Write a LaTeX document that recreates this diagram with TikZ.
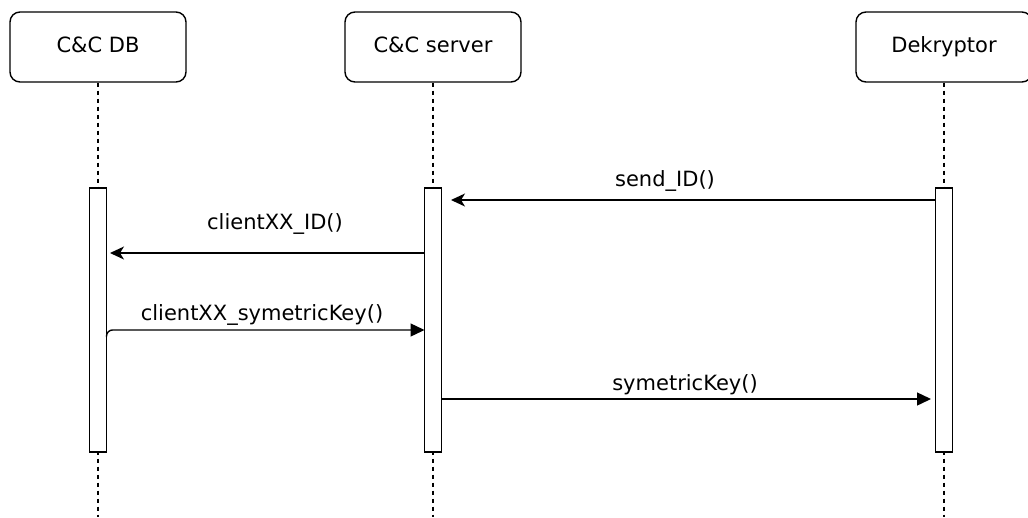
\documentclass[tikz,border=0pt]{standalone}
\usepackage{fontspec}
\setmainfont{DejaVu Sans}
\usetikzlibrary{arrows.meta}
\begin{document}
\begin{tikzpicture}[x=1pt,y=-1pt,line width=1.4pt,
  head/.style={draw, rounded corners=10pt, minimum width=176pt, minimum height=70pt, inner sep=0pt, text height=15pt, text depth=4pt, font=\fontsize{21}{25}\selectfont},
  actbar/.style={draw, fill=white, minimum width=17pt, minimum height=264pt, inner sep=0pt},
  life/.style={dash pattern=on 4.5pt off 3.5pt},
  msg/.style={font=\fontsize{21}{25}\selectfont, inner sep=0pt, text height=15pt, text depth=4pt},
  openarr/.style={-{Stealth[length=14pt,width=13pt,inset=4pt]}},
  blockarr/.style={-{Triangle[length=14pt,width=13pt]}}]
\clip (0,0) rectangle (1028,517);
% headers
\node[head] (db)  at (98,47)  {C\&C DB};
\node[head] (srv) at (433,47) {C\&C server};
\node[head] (dek) at (944,47) {Dekryptor};
% lifelines
\coordinate (dbend)  at (98,517);
\coordinate (srvend) at (433,517);
\coordinate (dekend) at (944,517);
\draw[life] (db.south) -- (dbend);
\draw[life] (srv.south) -- (srvend);
\draw[life] (dek.south) -- (dekend);
% activation bars
\node[actbar] (b1) at (98,320) {};
\node[actbar] (b2) at (433,320) {};
\node[actbar] (b3) at (944,320) {};
% messages
\coordinate (m1s) at (935.5,200);
\coordinate (m1e) at (451,200);
\draw[openarr] (m1s) -- (m1e);
\node[msg] (l1) at (665,181) {send\_ID()};

\coordinate (m2s) at (424.5,253);
\coordinate (m2e) at (110,253);
\draw[openarr] (m2s) -- (m2e);
\node[msg] (l2) at (275,224) {clientXX\_ID()};

\coordinate (m3a) at (106.5,337);
\coordinate (m3b) at (106.5,330);
\coordinate (m3e) at (424.5,330);
\draw[blockarr, rounded corners=6pt] (m3a) -- (m3b) -- (m3e);
\node[msg] (l3) at (262,315) {clientXX\_symetricKey()};

\coordinate (m4s) at (441.5,399);
\coordinate (m4e) at (931,399);
\draw[blockarr] (m4s) -- (m4e);
\node[msg] (l4) at (685,385) {symetricKey()};
\end{tikzpicture}
\end{document}
